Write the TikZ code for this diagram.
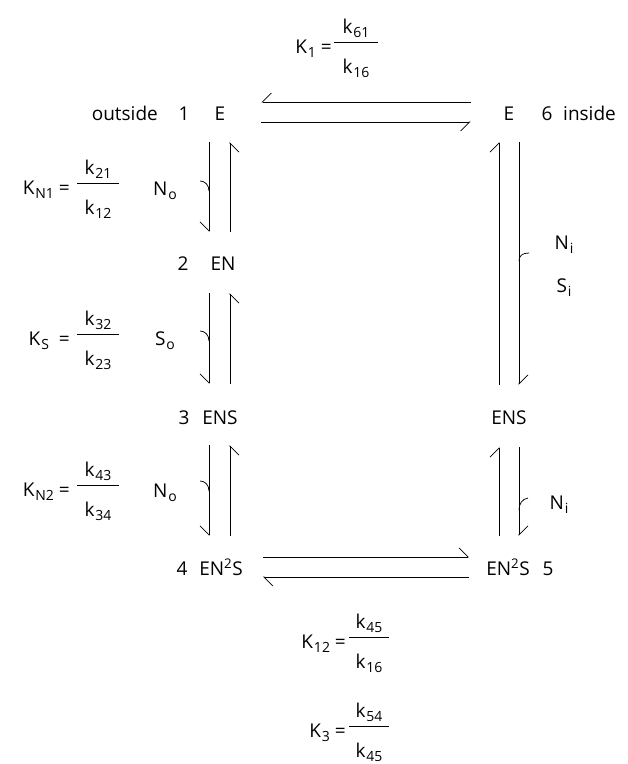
\documentclass[tikz,border=0pt]{standalone}
\usepackage{fontspec}
\setmainfont{Open Sans}
\usetikzlibrary{arrows.meta}
\newcommand\fs{\fontsize{19}{22}\selectfont}
\newcommand\sbs[1]{\raisebox{-4.5pt}{\fontsize{14}{14}\selectfont\kern1pt#1}}
\newcommand\Kfr[8]{%
  \node[lbl,anchor=east] (#1) at (#2,{#5+4}) {#6};
  \node[lbl] (#1n) at ({(#3+#4)/2},{#5-16}) {#7};
  \node[lbl] (#1d) at ({(#3+#4)/2},{#5+24}) {#8};
  \draw[fbar] (#3,#5) -- (#4,#5);
}
\tikzset{
  lbl/.style={font=\fs, inner sep=0pt, text height=14pt, text depth=0pt},
  ln/.style={line width=0.75pt, black},
  fbar/.style={line width=0.7pt, black},
  hpA/.style={ln, -{Straight Barb[harpoon,length=9pt,width=18pt,line width=0.75pt]}},
  hpB/.style={ln, -{Straight Barb[harpoon,swap,length=9pt,width=18pt,line width=0.75pt]}},
}
\begin{document}
\begin{tikzpicture}[x=1pt,y=-1pt]
\useasboundingbox (0,0) rectangle (628,764);
% species
\node[lbl] (E1) at (220,113) {E};
\node[lbl] (EN) at (223,263) {EN};
\node[lbl] (ENS) at (220,417) {ENS};
\node[lbl] (ENNS) at (221,568) {EN\textsuperscript{2}S};
\node[lbl] (E6) at (509,113) {E};
\node[lbl] (ENSi) at (509,417) {ENS};
\node[lbl] (ENNSi) at (508,568) {EN\textsuperscript{2}S};
% numbers and side words
\node[lbl,anchor=east] (out) at (158,113) {outside};
\node[lbl] (n1) at (184,113) {1};
\node[lbl] (n2) at (183,263) {2};
\node[lbl] (n3) at (184,417) {3};
\node[lbl] (n4) at (182,568) {4};
\node[lbl] (n6) at (547,113) {6};
\node[lbl,anchor=west] (ins) at (563,113) {inside};
\node[lbl] (n5) at (548,568) {5};
% ligand labels
\node[lbl] (No1) at (165,188) {N\sbs{o}};
\node[lbl] (So) at (165,338) {S\sbs{o}};
\node[lbl] (No2) at (165,490) {N\sbs{o}};
\node[lbl] (Ni1) at (564,242) {N\sbs{i}};
\node[lbl] (Si) at (564,285) {S\sbs{i}};
\node[lbl] (Ni2) at (559,502) {N\sbs{i}};
% constants
\Kfr{K1}{332}{334}{378}{42}{K\sbs{1} =}{k\sbs{61}}{k\sbs{16}}
\Kfr{KN1}{70}{77}{119}{183}{K\sbs{N1} =}{k\sbs{21}}{k\sbs{12}}
\Kfr{KS}{70}{77}{119}{334}{K\sbs{S} \ =}{k\sbs{32}}{k\sbs{23}}
\Kfr{KN2}{70}{77}{119}{485}{K\sbs{N2} =}{k\sbs{43}}{k\sbs{34}}
\Kfr{K12}{346}{349}{389}{637}{K\sbs{12} =}{k\sbs{45}}{k\sbs{16}}
\Kfr{K3}{346}{349}{389}{726}{K\sbs{3} =}{k\sbs{54}}{k\sbs{45}}
% top horizontal pair
\draw[hpB,shorten <=33pt,shorten >=36pt] ([yshift=11pt]E6.west) -- ([yshift=11pt]E1.east);
\draw[hpB,shorten <=36pt,shorten >=33pt] ([yshift=-9pt]E1.east) -- ([yshift=-9pt]E6.west);
% bottom horizontal pair
\draw[hpA,shorten <=20pt,shorten >=17pt] ([yshift=11pt]ENNS.east) -- ([yshift=11pt]ENNSi.west);
\draw[hpA,shorten <=17pt,shorten >=20pt] ([yshift=-9pt]ENNSi.west) -- ([yshift=-9pt]ENNS.east);
% left column
\draw[hpB,shorten <=22pt,shorten >=24pt] ([xshift=-11pt]E1.south) -- ([xshift=-14pt]EN.north);
\draw[hpB,shorten <=24pt,shorten >=22pt] ([xshift=7pt]EN.north) -- ([xshift=10pt]E1.south);
\draw[hpB,shorten <=23pt,shorten >=26pt] ([xshift=-14pt]EN.south) -- ([xshift=-11pt]ENS.north);
\draw[hpB,shorten <=26pt,shorten >=23pt] ([xshift=10pt]ENS.north) -- ([xshift=7pt]EN.south);
\draw[hpB,shorten <=21pt,shorten >=25pt] ([xshift=-11pt]ENS.south) -- ([xshift=-12pt]ENNS.north);
\draw[hpB,shorten <=25pt,shorten >=21pt] ([xshift=9pt]ENNS.north) -- ([xshift=10pt]ENS.south);
% right column
\draw[hpA,shorten <=25pt,shorten >=22pt] ([xshift=-10pt]ENSi.north) -- ([xshift=-10pt]E6.south);
\draw[hpA,shorten <=22pt,shorten >=25pt] ([xshift=10pt]E6.south) -- ([xshift=10pt]ENSi.north);
\draw[hpA,shorten <=25pt,shorten >=23pt] ([xshift=-9pt]ENNSi.north) -- ([xshift=-10pt]ENSi.south);
\draw[hpA,shorten <=23pt,shorten >=25pt] ([xshift=10pt]ENSi.south) -- ([xshift=11pt]ENNSi.north);
% binding / release hooks
\draw[ln] (200,181) .. controls (205,181) and (209,185) .. (209,191);
\draw[ln] (200,331) .. controls (205,331) and (209,335) .. (209,341);
\draw[ln] (200,481) .. controls (205,481) and (209,485) .. (209,491);
\draw[ln] (519,261) .. controls (519,256) and (522,253) .. (529,253);
\draw[ln] (519,510) .. controls (519,504) and (522,499) .. (528,498);
\end{tikzpicture}
\end{document}
